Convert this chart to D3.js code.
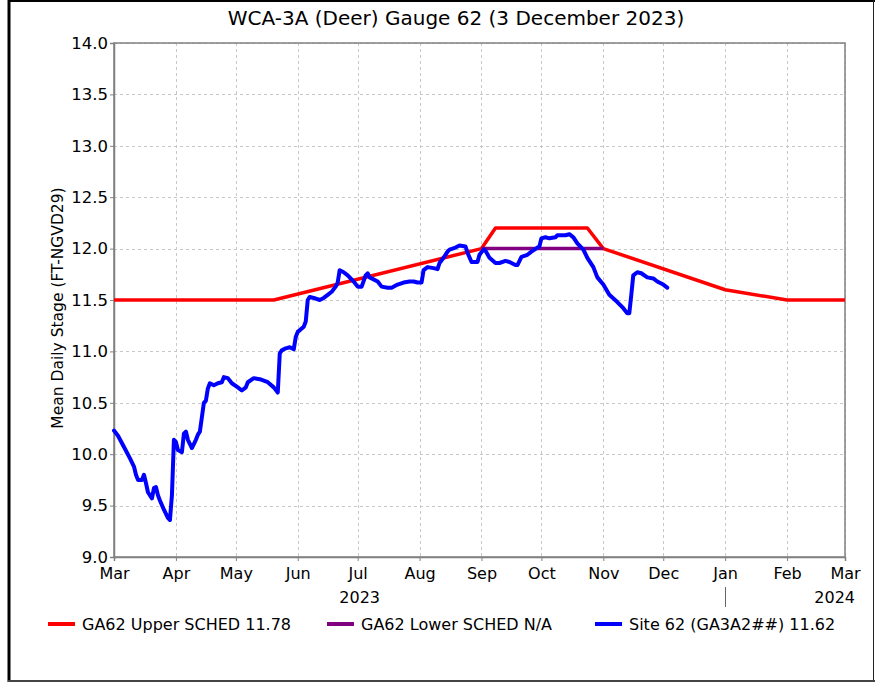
<!DOCTYPE html>
<html>
<head>
<meta charset="utf-8">
<script src="https://cdn.jsdelivr.net/npm/d3@7"></script>
<style>
  html, body { margin: 0; padding: 0; background: #fff; }
  svg { display: block; }
  text { font-family: "DejaVu Sans", sans-serif; fill: #000; }
</style>
</head>
<body>
<svg id="chart" width="875" height="682"></svg>
<script>
// Stage series: Site 62 (GA3A2##) mean daily stage
const stageDates = [
  "2023-03-01","2023-03-03","2023-03-06","2023-03-09","2023-03-11","2023-03-12","2023-03-13","2023-03-15",
  "2023-03-16","2023-03-17","2023-03-18","2023-03-20","2023-03-21","2023-03-22","2023-03-23","2023-03-24",
  "2023-03-26","2023-03-28","2023-03-29","2023-03-30","2023-03-31","2023-04-01","2023-04-02","2023-04-04",
  "2023-04-05","2023-04-06","2023-04-07","2023-04-09","2023-04-11","2023-04-12","2023-04-13","2023-04-14",
  "2023-04-15","2023-04-16","2023-04-17","2023-04-18","2023-04-20","2023-04-22","2023-04-24","2023-04-25",
  "2023-04-27","2023-04-29","2023-05-02","2023-05-04","2023-05-06","2023-05-07","2023-05-10","2023-05-13",
  "2023-05-17","2023-05-20","2023-05-22","2023-05-23","2023-05-24","2023-05-26","2023-05-28","2023-05-30",
  "2023-05-31","2023-06-01","2023-06-04","2023-06-05","2023-06-06","2023-06-07","2023-06-09","2023-06-12",
  "2023-06-14","2023-06-16","2023-06-18","2023-06-20","2023-06-21","2023-06-22","2023-06-24","2023-06-26",
  "2023-06-29","2023-07-01","2023-07-03","2023-07-05","2023-07-06","2023-07-07","2023-07-11","2023-07-13",
  "2023-07-16","2023-07-18","2023-07-21","2023-07-24","2023-07-27","2023-07-29","2023-07-31","2023-08-02",
  "2023-08-03","2023-08-05","2023-08-08","2023-08-10","2023-08-11","2023-08-13","2023-08-15","2023-08-16",
  "2023-08-19","2023-08-21","2023-08-24","2023-08-25","2023-08-27","2023-08-30","2023-08-31","2023-09-02",
  "2023-09-03","2023-09-05","2023-09-08","2023-09-10","2023-09-13","2023-09-15","2023-09-18","2023-09-19",
  "2023-09-21","2023-09-24","2023-09-26","2023-09-29","2023-09-30","2023-10-01","2023-10-03","2023-10-05",
  "2023-10-08","2023-10-09","2023-10-13","2023-10-15","2023-10-17","2023-10-19","2023-10-22","2023-10-24",
  "2023-10-27","2023-10-29","2023-11-01","2023-11-04","2023-11-08","2023-11-11","2023-11-13","2023-11-14",
  "2023-11-15","2023-11-16","2023-11-18","2023-11-20","2023-11-23","2023-11-26","2023-11-28","2023-12-01",
  "2023-12-03"
];
const stageValues = [
  10.23,10.18,10.07,9.96,9.88,9.80,9.75,9.75,
  9.80,9.72,9.63,9.57,9.67,9.68,9.60,9.55,
  9.46,9.38,9.36,9.60,10.14,10.12,10.04,10.02,
  10.20,10.22,10.14,10.06,10.14,10.19,10.22,10.36,
  10.50,10.52,10.64,10.69,10.67,10.69,10.70,10.75,
  10.74,10.69,10.65,10.62,10.65,10.70,10.74,10.73,
  10.70,10.65,10.60,10.98,11.01,11.03,11.04,11.02,
  11.14,11.19,11.24,11.29,11.50,11.53,11.52,11.50,
  11.52,11.55,11.58,11.63,11.67,11.79,11.77,11.74,
  11.68,11.63,11.63,11.74,11.76,11.72,11.68,11.63,
  11.62,11.62,11.65,11.67,11.68,11.68,11.67,11.67,
  11.79,11.82,11.81,11.80,11.86,11.91,11.97,11.99,
  12.01,12.03,12.02,11.96,11.87,11.87,11.94,11.99,
  11.98,11.91,11.86,11.86,11.88,11.87,11.84,11.84,
  11.92,11.94,11.97,12.01,12.02,12.10,12.11,12.10,
  12.11,12.13,12.13,12.14,12.11,12.05,11.99,11.91,
  11.82,11.72,11.65,11.55,11.48,11.42,11.37,11.37,
  11.55,11.74,11.77,11.76,11.72,11.71,11.68,11.65,
  11.62
];

// Upper regulation schedule breakpoints
const upperDates  = ["2023-03-01","2023-05-20","2023-09-01","2023-09-08","2023-10-24","2023-11-01","2024-01-01","2024-02-01","2024-03-01"];
const upperValues = [11.5, 11.5, 12.0, 12.2, 12.2, 12.0, 11.6, 11.5, 11.5];

// Lower regulation schedule breakpoints
const lowerDates  = ["2023-09-01","2023-11-01"];
const lowerValues = [12.0, 12.0];

const yTicks = [9.0, 9.5, 10.0, 10.5, 11.0, 11.5, 12.0, 12.5, 13.0, 13.5, 14.0];
const yearLabels = ["2023", "2024"];
const legendLabels = ["GA62 Upper SCHED 11.78", "GA62 Lower SCHED N/A", "Site 62 (GA3A2##) 11.62"];
const seriesColors = ["#ff0000", "#800080", "#0000ff"];

const parse = d3.timeParse("%Y-%m-%d");
const zip = (ds, vs) => ds.map((d, i) => ({ date: parse(d), value: vs[i] }));
const stage = zip(stageDates, stageValues);
const upper = zip(upperDates, upperValues);
const lower = zip(lowerDates, lowerValues);

const svg = d3.select("#chart");
const L = 114, R = 845, T = 43, B = 557;

const x = d3.scaleTime().domain([parse("2023-03-01"), parse("2024-03-01")]).range([L, R]);
const y = d3.scaleLinear().domain([9, 14]).range([B, T]);
const months = d3.timeMonth.range(parse("2023-03-01"), parse("2024-03-02"));

// outer frame
svg.append("line").attr("x1", 9).attr("x2", 9).attr("y1", 0).attr("y2", 682).attr("stroke", "#000").attr("stroke-width", 3);
svg.append("line").attr("x1", 8).attr("x2", 875).attr("y1", 1).attr("y2", 1).attr("stroke", "#000").attr("stroke-width", 2);
svg.append("line").attr("x1", 873.5).attr("x2", 873.5).attr("y1", 0).attr("y2", 682).attr("stroke", "#222").attr("stroke-width", 1);
svg.append("line").attr("x1", 8).attr("x2", 875).attr("y1", 681).attr("y2", 681).attr("stroke", "#444").attr("stroke-width", 2);

// title
svg.append("text").attr("x", 456).attr("y", 25).attr("text-anchor", "middle")
  .style("font-size", "20px").text("WCA-3A (Deer) Gauge 62 (3 December 2023)");

// grid
const grid = svg.append("g").attr("stroke", "#c8c8c8").attr("stroke-width", 1).attr("stroke-dasharray", "3,3");
grid.selectAll(".gy").data(yTicks).join("line")
  .attr("x1", L).attr("x2", R).attr("y1", d => Math.round(y(d)) + 0.5).attr("y2", d => Math.round(y(d)) + 0.5);
grid.selectAll(".gx").data(months).join("line")
  .attr("y1", T).attr("y2", B).attr("x1", d => Math.round(x(d)) + 0.5).attr("x2", d => Math.round(x(d)) + 0.5);

// plot border
svg.append("rect").attr("x", L).attr("y", T).attr("width", R - L).attr("height", B - T)
  .attr("fill", "none").attr("stroke", "#808080").attr("stroke-width", 1.5);

// axes
const yAxis = d3.axisLeft(y).tickValues(yTicks).tickFormat(d3.format(".1f")).tickSize(4).tickPadding(2);
const gy = svg.append("g").attr("transform", `translate(${L},0)`).call(yAxis);
gy.select(".domain").attr("stroke", "#808080").attr("stroke-width", 1.5);
gy.selectAll(".tick line").attr("stroke", "#808080");
gy.selectAll("text").style("font-size", "16.5px").style("font-family", "DejaVu Sans, sans-serif");

const xAxis = d3.axisBottom(x).tickValues(months).tickFormat(d3.timeFormat("%b")).tickSize(4).tickPadding(7);
const gx = svg.append("g").attr("transform", `translate(0,${B})`).call(xAxis);
gx.select(".domain").attr("stroke", "#808080").attr("stroke-width", 1.5);
gx.selectAll(".tick line").attr("stroke", "#808080");
gx.selectAll("text").style("font-size", "16px").style("font-family", "DejaVu Sans, sans-serif");

// year labels and year divider
svg.append("text").attr("x", x(parse("2023-07-01")) + 2).attr("y", 603)
  .attr("text-anchor", "middle").style("font-size", "16px").text(yearLabels[0]);
svg.append("text").attr("x", x(parse("2024-03-01")) + 10).attr("y", 603)
  .attr("text-anchor", "end").style("font-size", "16px").text(yearLabels[1]);
svg.append("line").attr("x1", Math.round(x(parse("2024-01-01"))) + 0.5).attr("x2", Math.round(x(parse("2024-01-01"))) + 0.5)
  .attr("y1", 587).attr("y2", 607).attr("stroke", "#666").attr("stroke-width", 1);

// y axis title
svg.append("text").attr("transform", "translate(63,308) rotate(-90)").attr("text-anchor", "middle")
  .style("font-size", "15.5px").text("Mean Daily Stage (FT-NGVD29)");

// series
const line = d3.line().x(d => x(d.date)).y(d => y(d.value));
const plot = svg.append("g");
plot.append("path").datum(upper).attr("d", line).attr("fill", "none")
  .attr("stroke", seriesColors[0]).attr("stroke-width", 3.5).attr("stroke-linejoin", "round");
plot.append("path").datum(lower).attr("d", line).attr("fill", "none")
  .attr("stroke", seriesColors[1]).attr("stroke-width", 3.5);
plot.append("path").datum(stage).attr("d", line).attr("fill", "none")
  .attr("stroke", seriesColors[2]).attr("stroke-width", 4).attr("stroke-linejoin", "round").attr("stroke-linecap", "round");

// legend
const legendX = [48, 327, 595];
const lg = svg.append("g");
legendLabels.forEach((lab, i) => {
  lg.append("line").attr("x1", legendX[i]).attr("x2", legendX[i] + 27).attr("y1", 624).attr("y2", 624)
    .attr("stroke", seriesColors[i]).attr("stroke-width", 4);
  lg.append("text").attr("x", legendX[i] + 34).attr("y", 630)
    .style("font-size", "16px").text(lab);
});
</script>
</body>
</html>
